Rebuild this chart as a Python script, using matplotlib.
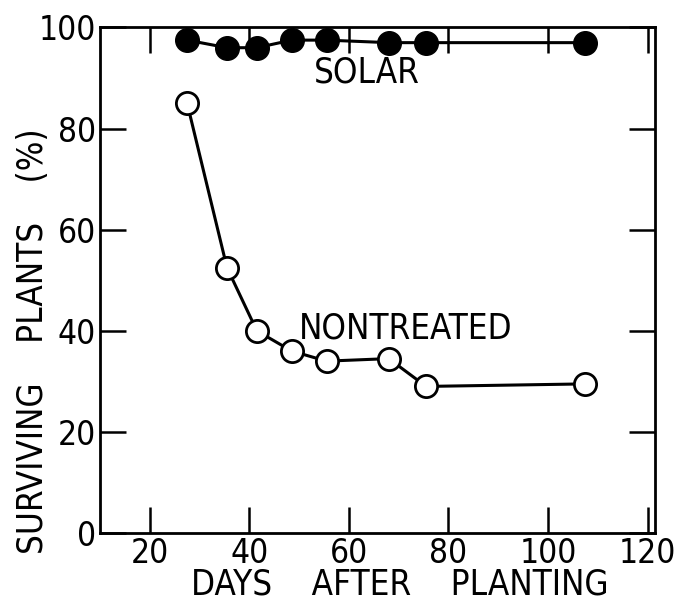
import matplotlib
matplotlib.use("Agg")
import matplotlib.pyplot as plt

# Days after planting (shared by both series)
days = [27.5, 35.5, 41.5, 48.5, 55.5, 68, 75.5, 107.5]

# Surviving plants (%)
solar = [97.5, 96, 96, 97.5, 97.5, 97, 97, 97]
nontreated = [85, 52.5, 40, 36, 34, 34.5, 29, 29.5]

x_ticks = [20, 40, 60, 80, 100, 120]
y_ticks = [0, 20, 40, 60, 80, 100]

plt.rcParams["font.family"] = ["DejaVu Sans"]
plt.rcParams["font.stretch"] = "condensed"

fig = plt.figure(figsize=(6.76, 6.04), dpi=100)
ax = fig.add_axes([0.148, 0.1175, 0.821, 0.837])

ax.plot(days, solar, "-o", color="black", linewidth=2.2,
        markersize=17, markerfacecolor="black", markeredgecolor="black")
ax.plot(days, nontreated, "-o", color="black", linewidth=2.2,
        markersize=16, markerfacecolor="white", markeredgecolor="black",
        markeredgewidth=2.0)

ax.text(63.5, 91, "SOLAR", fontsize=25, ha="center", va="center")
ax.text(71.5, 40.5, "NONTREATED", fontsize=25, ha="center", va="center")

ax.set_xlim(10, 121.5)
ax.set_ylim(0, 100)
ax.set_xticks(x_ticks)
ax.set_yticks(y_ticks)

for s in ax.spines.values():
    s.set_linewidth(2.0)

ax.tick_params(axis="both", direction="in", length=19, width=1.8,
               labelsize=24, top=True, right=True, pad=3)

ax.set_xlabel("DAYS    AFTER    PLANTING", fontsize=25)
ax.set_ylabel("SURVIVING    PLANTS    (%)", fontsize=25)
ax.xaxis.set_label_coords(0.54, -0.068)
ax.yaxis.set_label_coords(-0.09, 0.38)

fig.savefig("out.png", dpi=100)
